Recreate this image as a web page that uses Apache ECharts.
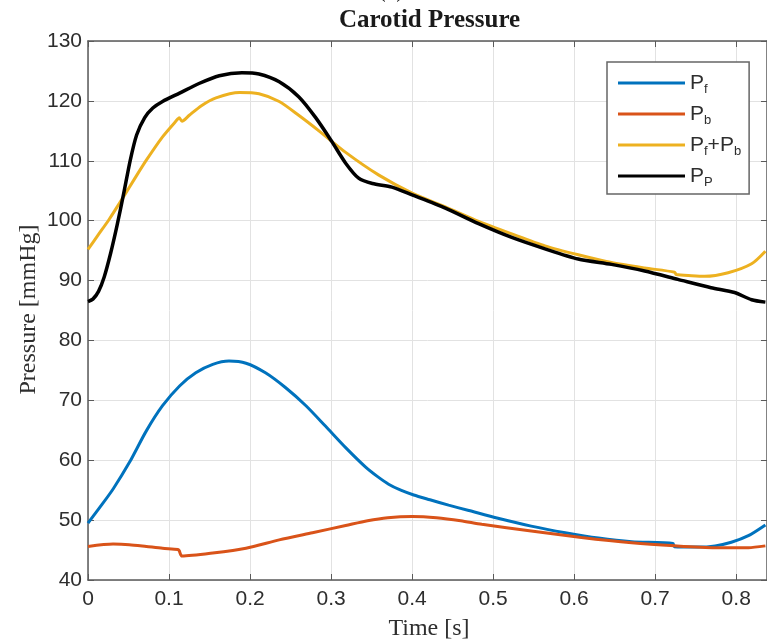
<!DOCTYPE html>
<html>
<head>
<meta charset="utf-8">
<script src="https://cdn.jsdelivr.net/npm/echarts@6/dist/echarts.min.js"></script>
<style>
html,body{margin:0;padding:0;background:#fff;}
#chart{width:767px;height:643px;}
</style>
</head>
<body>
<div id="chart"></div>
<script>
// ---- data ----
const xTicks = [0, 0.1, 0.2, 0.3, 0.4, 0.5, 0.6, 0.7, 0.8];
const yTicks = [40, 50, 60, 70, 80, 90, 100, 110, 120, 130];

const tPf = [0, 0.015, 0.031, 0.051, 0.072, 0.092, 0.113, 0.133, 0.154, 0.174, 0.195, 0.219, 0.244, 0.269, 0.293, 0.318, 0.343, 0.357, 0.371, 0.386, 0.402, 0.422, 0.445, 0.47, 0.506, 0.547, 0.589, 0.63, 0.671, 0.722, 0.7235, 0.753, 0.774, 0.794, 0.815, 0.836];
const Pf  = [49.5, 52.2, 55.2, 59.6, 64.9, 69.1, 72.4, 74.6, 76.0, 76.55, 76.2, 74.6, 72.1, 69.1, 65.7, 62.1, 58.8, 57.3, 56.0, 55.0, 54.2, 53.4, 52.5, 51.6, 50.3, 49.0, 47.9, 47.0, 46.4, 46.1, 45.55, 45.5, 45.7, 46.3, 47.4, 49.2];

const tPb = [0, 0.031, 0.051, 0.072, 0.092, 0.111, 0.1125, 0.116, 0.154, 0.195, 0.236, 0.277, 0.318, 0.345, 0.37, 0.4, 0.43, 0.46, 0.486, 0.547, 0.609, 0.671, 0.724, 0.774, 0.815, 0.836];
const Pb  = [45.6, 46.0, 45.9, 45.6, 45.3, 45.1, 44.9, 44.0, 44.5, 45.3, 46.7, 47.9, 49.1, 49.9, 50.4, 50.6, 50.4, 49.9, 49.3, 48.2, 47.1, 46.2, 45.7, 45.4, 45.4, 45.7];

const tSum = [0, 0.013, 0.026, 0.043, 0.058, 0.072, 0.092, 0.111, 0.1125, 0.116, 0.125, 0.14, 0.158, 0.187, 0.211, 0.236, 0.26, 0.285, 0.318, 0.359, 0.4, 0.441, 0.482, 0.523, 0.564, 0.605, 0.646, 0.687, 0.724, 0.726, 0.745, 0.761, 0.79, 0.819, 0.836];
const PfPb = [95.2, 97.7, 100.2, 103.8, 107.1, 110.1, 114.0, 117.0, 117.2, 116.6, 117.6, 119.2, 120.5, 121.4, 121.2, 119.9, 117.6, 115.0, 111.4, 107.6, 104.6, 102.3, 99.9, 97.8, 95.8, 94.3, 93.0, 92.1, 91.4, 91.0, 90.8, 90.7, 91.3, 92.8, 94.9];

const tPP = [0, 0.006, 0.013, 0.02, 0.028, 0.036, 0.044, 0.052, 0.06, 0.07, 0.08, 0.092, 0.113, 0.137, 0.162, 0.19, 0.211, 0.236, 0.26, 0.281, 0.301, 0.318, 0.334, 0.351, 0.375, 0.4, 0.441, 0.482, 0.523, 0.564, 0.605, 0.646, 0.687, 0.728, 0.769, 0.798, 0.819, 0.836];
const PP   = [86.5, 86.9, 88.2, 90.6, 94.6, 99.3, 104.5, 110.0, 114.3, 117.2, 118.8, 119.9, 121.3, 122.9, 124.2, 124.7, 124.5, 123.2, 120.7, 117.2, 113.2, 109.6, 107.1, 106.2, 105.6, 104.3, 102.1, 99.5, 97.2, 95.3, 93.6, 92.7, 91.6, 90.2, 88.8, 88.0, 86.8, 86.4];

const seriesNames = ['Pf', 'Pb', 'Pf+Pb', 'PP'];
const legendRich = {
  'Pf': '{m|P}{s|f}',
  'Pb': '{m|P}{s|b}',
  'Pf+Pb': '{m|P}{s|f}{m|+P}{s|b}',
  'PP': '{m|P}{s|P}'
};
const colors = ['#0072BD', '#D95319', '#EDB120', '#000000'];

const zip = (t, v) => t.map((x, i) => [x, v[i]]);

const axisColor = '#5a5a5a';
const textColor = '#2e2e2e';
const xMin = 0, xMax = 0.838, yMin = 40, yMax = 130;

const chart = echarts.init(document.getElementById('chart'), null, {renderer: 'canvas'});
const axisBase = {
  axisLine: {show: true, onZero: false, lineStyle: {color: axisColor, width: 1.5}},
  axisTick: {show: true, inside: true, length: 6, lineStyle: {color: axisColor}}
};
const option = {
  animation: false,
  backgroundColor: '#ffffff',
  color: colors,
  grid: {left: 88, right: -1, top: 41, bottom: 63, containLabel: false},
  xAxis: [Object.assign({
    type: 'value', position: 'bottom', min: xMin, max: xMax, interval: 0.1,
    axisLabel: {show: true, showMaxLabel: false, margin: 9, fontFamily: 'Liberation Sans', fontSize: 21, color: textColor,
      formatter: v => xTicks.some(t => Math.abs(t - v) < 1e-9) ? String(+v.toFixed(1)) : ''},
    splitLine: {show: true, lineStyle: {color: '#e2e2e2', width: 1}}
  }, axisBase), Object.assign({
    type: 'value', position: 'top', min: xMin, max: xMax, interval: 0.1,
    axisLabel: {show: false}, splitLine: {show: false}
  }, axisBase)],
  yAxis: [Object.assign({
    type: 'value', position: 'left', min: yMin, max: yMax, interval: 10,
    axisLabel: {show: true, margin: 6, fontFamily: 'Liberation Sans', fontSize: 21, color: textColor,
      formatter: v => yTicks.includes(v) ? String(v) : ''},
    splitLine: {show: true, lineStyle: {color: '#e2e2e2', width: 1}}
  }, axisBase), Object.assign({
    type: 'value', position: 'right', min: yMin, max: yMax, interval: 10,
    axisLabel: {show: false}, splitLine: {show: false}
  }, axisBase)],
  legend: {
    orient: 'vertical', left: 607, top: 62,
    padding: [8, 8, 5, 11], itemGap: 5, itemWidth: 67, itemHeight: 3,
    icon: 'rect',
    backgroundColor: '#ffffff', borderColor: '#666666', borderWidth: 1.5, borderRadius: 0,
    data: seriesNames,
    formatter: name => legendRich[name],
    textStyle: {
      color: textColor,
      rich: {
        m: {fontFamily: 'Liberation Sans', fontSize: 21, color: textColor, lineHeight: 23},
        s: {fontFamily: 'Liberation Sans', fontSize: 13, color: textColor, padding: [13, 0, 0, 0], lineHeight: 23}
      }
    }
  },
  graphic: [
    {type: 'text', x: 391, y: -9, silent: true,
     style: {text: '(c)', fontFamily: 'Liberation Serif', fontSize: 24, fill: '#1a1a1a', align: 'center', verticalAlign: 'middle'}},
    {type: 'text', x: 429.5, y: 21, silent: true,
     style: {text: 'Carotid Pressure', fontFamily: 'Liberation Serif', fontWeight: 'bold', fontSize: 25, fill: '#1a1a1a', align: 'center', verticalAlign: 'middle'}},
    {type: 'text', x: 429, y: 629, silent: true,
     style: {text: 'Time [s]', fontFamily: 'Liberation Serif', fontSize: 24, fill: '#2e2e2e', align: 'center', verticalAlign: 'middle'}},
    {type: 'text', x: 29, y: 309.5, rotation: Math.PI / 2, silent: true,
     style: {text: 'Pressure [mmHg]', fontFamily: 'Liberation Serif', fontSize: 24, fill: '#2e2e2e', align: 'center', verticalAlign: 'middle'}}
  ],
  series: [
    {name: 'Pf', type: 'line', data: zip(tPf, Pf), showSymbol: false, smooth: 0.25, lineStyle: {width: 3, color: colors[0]}},
    {name: 'Pb', type: 'line', data: zip(tPb, Pb), showSymbol: false, smooth: 0.25, lineStyle: {width: 3, color: colors[1]}},
    {name: 'Pf+Pb', type: 'line', data: zip(tSum, PfPb), showSymbol: false, smooth: 0.25, lineStyle: {width: 3, color: colors[2]}},
    {name: 'PP', type: 'line', data: zip(tPP, PP), showSymbol: false, smooth: 0.25, lineStyle: {width: 3.5, color: colors[3]}}
  ]
};
chart.setOption(option);
</script>
</body>
</html>
